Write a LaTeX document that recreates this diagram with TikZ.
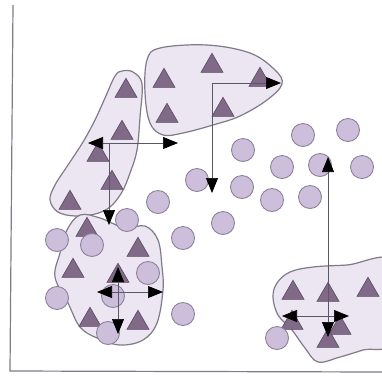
\documentclass[tikz,border=0pt]{standalone}
\usetikzlibrary{arrows.meta,shapes.geometric}
\definecolor{blobfill}{HTML}{ECE6F2}
\definecolor{blobline}{HTML}{807A8A}
\definecolor{trifill}{HTML}{806A88}
\definecolor{tridraw}{HTML}{5A4A62}
\definecolor{ptfill}{HTML}{CDBFDC}
\definecolor{ptdraw}{HTML}{8C8298}
\definecolor{vecline}{HTML}{5E5666}
\begin{document}
\begin{tikzpicture}[x=1pt, y=-1pt,
      blob/.style={draw=blobline, fill=blobfill, line width=1.2pt},
      tri/.style={regular polygon, regular polygon sides=3, draw=tridraw, fill=trifill, line width=0.6pt, inner sep=0pt, minimum size=25.5pt},
      pt/.style={circle, draw=ptdraw, fill=ptfill, line width=0.9pt, inner sep=0pt, minimum size=23pt},
      vec/.style={draw=vecline, line width=0.7pt, -{Triangle[length=15pt, width=12pt, color=black]}},
      axis/.style={draw=blobline, line width=1.2pt}
  ]
    \useasboundingbox (0,0) rectangle (382,376);
    \clip (0,0) rectangle (382,376);
    \fill[white] (0,0) rectangle (382,376);

    \draw[blob] plot[smooth cycle, tension=0.6] coordinates {(122,71) (133,72) (142,84) (140,117) (137,150) (130,173) (122,192) (110,207) (95,214) (75,216) (58,212) (50,200) (55,185) (68,165) (83,142) (95,120) (105,98) (115,76)};
    \draw[blob] plot[smooth cycle, tension=0.6] coordinates {(160,48) (207,45) (250,53) (275,70) (282,84) (267,100) (240,116) (213,125) (183,133) (163,135) (150,123) (145,93) (147,60)};
    \draw[blob] plot[smooth cycle, tension=0.6] coordinates {(80,215) (100,218) (125,228) (145,226) (158,240) (162,267) (163,290) (157,323) (143,340) (120,345) (97,338) (80,327) (68,303) (55,277) (60,253) (67,230)};
    \draw[blob] plot[smooth cycle, tension=0.6] coordinates {(290,272) (313,267) (347,265) (395,262) (395,340) (363,350) (340,357) (318,362) (305,348) (292,330) (278,315) (273,297) (277,283)};

    \foreach \x/\y [count=\i] in {126/88, 122/130, 98/152, 112/180, 70/200,
        164/78, 212/63, 260/77, 167/113, 223/107,
        87/227, 138/247, 73/268, 118/273, 90/317, 138/320,
        293/290, 328/292, 368/287, 292/320, 340/325, 328/338} {
      \node[tri] (t\i) at (\x,\y+3) {};
    }
    \foreach \x/\y [count=\i] in {303/135, 348/130, 243/150, 282/167, 320/165, 362/167,
        197/180, 242/187, 272/200, 310/197, 158/202, 223/223, 183/238,
        127/220, 57/240, 92/245, 148/273, 57/298, 113/296, 183/314, 108/333, 277/338} {
      \node[pt] (p\i) at (\x,\y) {};
    }

    \draw[axis] (13,5) -- (10,371) -- (382,372);

    \coordinate (ca) at (109,143);
    \coordinate (ca-l) at (88,143);
    \coordinate (ca-r) at (178,143);
    \coordinate (ca-d) at (109,225);
    \coordinate (cb) at (212,83);
    \coordinate (cb-r) at (281,83);
    \coordinate (cb-d) at (212,193);
    \coordinate (cc) at (118,292);
    \coordinate (cc-l) at (97,292);
    \coordinate (cc-r) at (163,292);
    \coordinate (cc-u) at (118,267);
    \coordinate (cc-d) at (118,334);
    \coordinate (cd) at (328,316);
    \coordinate (cd-l) at (282,316);
    \coordinate (cd-r) at (349,316);
    \coordinate (cd-u) at (328,157);
    \coordinate (cd-d) at (328,337);

    \foreach \c/\e in {ca/ca-l, ca/ca-r, ca/ca-d, cb/cb-r, cb/cb-d,
        cc/cc-l, cc/cc-r, cc/cc-u, cc/cc-d, cd/cd-l, cd/cd-r, cd/cd-u, cd/cd-d} {
      \draw[vec] (\c) -- (\e);
    }
  \end{tikzpicture}
\end{document}
